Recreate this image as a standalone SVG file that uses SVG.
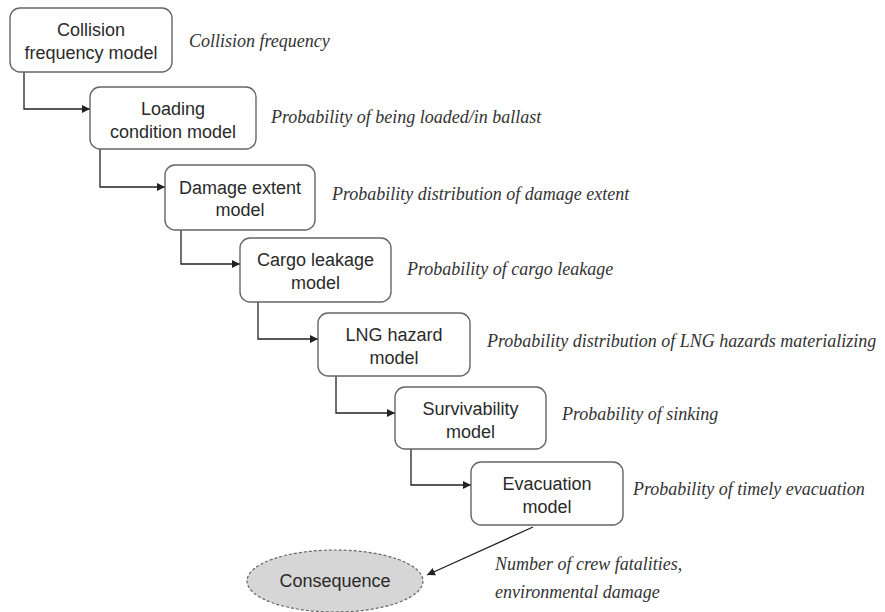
<svg xmlns="http://www.w3.org/2000/svg" width="885" height="612" viewBox="0 0 885 612">
  <defs>
    <marker id="arrow" viewBox="0 0 10 10" refX="10" refY="5" markerWidth="8" markerHeight="8" markerUnits="userSpaceOnUse" orient="auto">
      <path d="M0,0 L10,5 L0,10 z" fill="#222"/>
    </marker>
    <style>
      .box { fill: #fff; stroke: #666; stroke-width: 1.4; }
      .lbl { font-family: "Liberation Sans", Arial, sans-serif; font-size: 18px; fill: #2a2a2a; text-anchor: middle; }
      .note { font-family: "Liberation Serif", "Times New Roman", serif; font-style: italic; font-size: 18px; fill: #333; }
      .conn { fill: none; stroke: #222; stroke-width: 1.3; marker-end: url(#arrow); }
    </style>
  </defs>
  <rect width="885" height="612" fill="#fff"/>

  <!-- connectors -->
  <g id="connectors">
    <path class="conn" d="M24,72 V109 H90"/>
    <path class="conn" d="M100,149 V187 H165"/>
    <path class="conn" d="M181,230 V264 H240"/>
    <path class="conn" d="M258,302 V339 H318"/>
    <path class="conn" d="M336,376 V413 H395"/>
    <path class="conn" d="M411,449 V485 H471"/>
    <path class="conn" d="M533,527 L427,575"/>
  </g>

  <g id="collision">
    <rect class="box" x="10" y="8" width="162" height="64" rx="10"/>
    <text class="lbl" x="91" y="36">Collision</text>
    <text class="lbl" x="91" y="59">frequency model</text>
    <text class="note" x="189" y="47">Collision frequency</text>
  </g>

  <g id="loading">
    <rect class="box" x="90" y="87" width="166" height="62" rx="10"/>
    <text class="lbl" x="173" y="115">Loading</text>
    <text class="lbl" x="173" y="138">condition model</text>
    <text class="note" x="271" y="123">Probability of being loaded/in ballast</text>
  </g>

  <g id="damage">
    <rect class="box" x="165" y="165" width="150" height="65" rx="10"/>
    <text class="lbl" x="240" y="194">Damage extent</text>
    <text class="lbl" x="240" y="216">model</text>
    <text class="note" x="332" y="200">Probability distribution of damage extent</text>
  </g>

  <g id="cargo">
    <rect class="box" x="240" y="238" width="151" height="64" rx="10"/>
    <text class="lbl" x="315.5" y="266">Cargo leakage</text>
    <text class="lbl" x="315.5" y="289">model</text>
    <text class="note" x="407" y="275">Probability of cargo leakage</text>
  </g>

  <g id="lng">
    <rect class="box" x="318" y="313" width="152" height="63" rx="10"/>
    <text class="lbl" x="394" y="341">LNG hazard</text>
    <text class="lbl" x="394" y="364">model</text>
    <text class="note" x="487" y="347">Probability distribution of LNG hazards materializing</text>
  </g>

  <g id="survivability">
    <rect class="box" x="395" y="387" width="151" height="62" rx="10"/>
    <text class="lbl" x="470.5" y="415">Survivability</text>
    <text class="lbl" x="470.5" y="438">model</text>
    <text class="note" x="562" y="420">Probability of sinking</text>
  </g>

  <g id="evacuation">
    <rect class="box" x="471" y="462" width="152" height="63" rx="10"/>
    <text class="lbl" x="547" y="490">Evacuation</text>
    <text class="lbl" x="547" y="513">model</text>
    <text class="note" x="633" y="495">Probability of timely evacuation</text>
  </g>

  <g id="consequence">
    <ellipse cx="335" cy="581" rx="88" ry="31" fill="#d6d6d6" stroke="#666" stroke-width="1.2" stroke-dasharray="3 2"/>
    <text class="lbl" x="335" y="587">Consequence</text>
    <text class="note" x="495" y="570">Number of crew fatalities,</text>
    <text class="note" x="495" y="598">environmental damage</text>
  </g>
</svg>
